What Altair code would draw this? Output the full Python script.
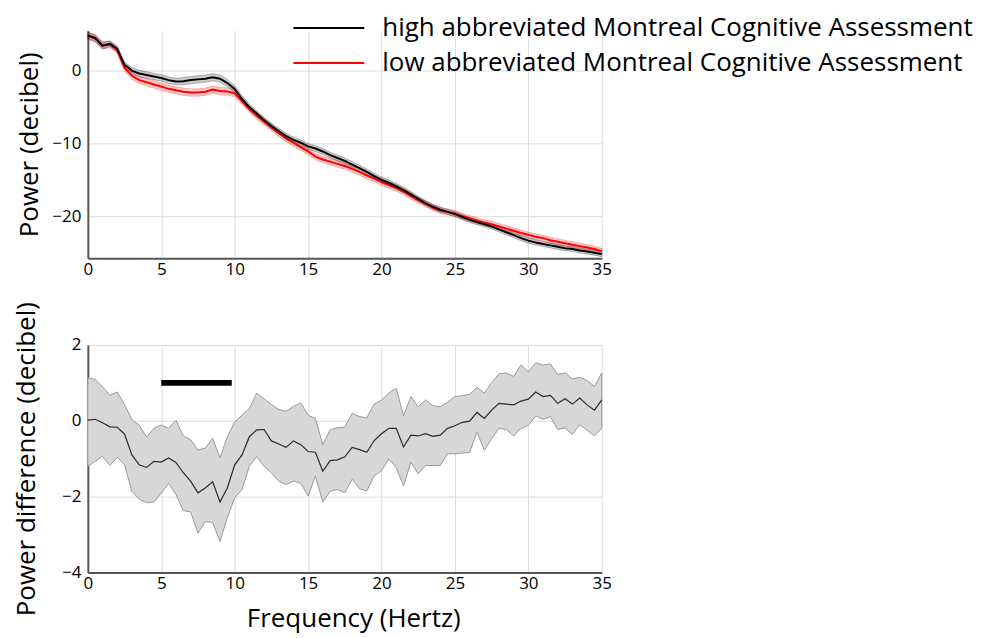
import altair as alt
import pandas as pd

# ---------------- data ----------------
freq = [i * 0.5 for i in range(71)]

group_names = [
    "high abbreviated Montreal Cognitive Assessment",
    "low abbreviated Montreal Cognitive Assessment",
]
group_colors = ["#000000", "#ff0000"]

high_power = [
    4.8, 4.5, 3.4, 3.7, 3.0, 0.8, 0.0, -0.4, -0.6, -0.8,
    -1.0, -1.3, -1.5, -1.45, -1.3, -1.2, -1.1, -0.9, -1.1, -1.7,
    -2.5, -3.9, -5.0, -5.9, -6.8, -7.6, -8.3, -9.0, -9.5, -9.9,
    -10.4, -10.7, -11.1, -11.6, -12.0, -12.4, -12.9, -13.4, -13.9, -14.5,
    -15.0, -15.4, -15.9, -16.4, -17.0, -17.6, -18.2, -18.7, -19.1, -19.4,
    -19.7, -20.1, -20.5, -20.8, -21.1, -21.4, -21.8, -22.2, -22.6, -23.0,
    -23.35, -23.6, -23.8, -24.0, -24.2, -24.4, -24.5, -24.7, -24.85, -25.0,
    -25.2,
]
low_power = [
    4.8, 4.4, 3.5, 3.6, 2.8, 0.4, -0.7, -1.3, -1.6, -1.9,
    -2.2, -2.5, -2.7, -2.9, -3.0, -3.0, -2.9, -2.6, -2.8, -2.85,
    -3.1, -4.2, -5.3, -6.2, -7.0, -7.8, -8.6, -9.3, -9.9, -10.5,
    -11.1, -11.8, -12.2, -12.5, -12.8, -13.1, -13.5, -13.9, -14.4, -14.8,
    -15.3, -15.7, -16.1, -16.6, -17.2, -17.8, -18.3, -18.8, -19.2, -19.4,
    -19.6, -20.0, -20.3, -20.6, -20.9, -21.1, -21.4, -21.7, -22.0, -22.3,
    -22.55, -22.8, -23.0, -23.3, -23.5, -23.7, -23.9, -24.1, -24.3, -24.5,
    -24.8,
]
high_sem = [
    0.45, 0.45, 0.45, 0.4, 0.4, 0.4, 0.45, 0.45, 0.45, 0.45,
    0.45, 0.45, 0.45, 0.5, 0.5, 0.5, 0.5, 0.5, 0.5, 0.5,
    0.45, 0.45, 0.4, 0.4, 0.4, 0.4, 0.4, 0.4, 0.4, 0.4,
    0.4, 0.4, 0.4, 0.4, 0.4, 0.4, 0.4, 0.4, 0.4, 0.4,
    0.4, 0.4, 0.4, 0.4, 0.4, 0.35, 0.35, 0.35, 0.35, 0.35,
    0.35, 0.35, 0.35, 0.35, 0.35, 0.35, 0.35, 0.35, 0.35, 0.35,
    0.35, 0.35, 0.35, 0.35, 0.35, 0.35, 0.35, 0.35, 0.35, 0.35,
    0.35,
]
low_sem = [
    0.5, 0.5, 0.5, 0.45, 0.45, 0.45, 0.5, 0.5, 0.5, 0.5,
    0.5, 0.5, 0.5, 0.5, 0.5, 0.5, 0.5, 0.5, 0.5, 0.5,
    0.5, 0.45, 0.45, 0.45, 0.45, 0.45, 0.45, 0.45, 0.45, 0.45,
    0.45, 0.45, 0.45, 0.45, 0.45, 0.45, 0.45, 0.45, 0.45, 0.45,
    0.45, 0.45, 0.45, 0.45, 0.45, 0.4, 0.4, 0.4, 0.4, 0.4,
    0.4, 0.4, 0.4, 0.4, 0.4, 0.4, 0.4, 0.4, 0.4, 0.4,
    0.4, 0.4, 0.4, 0.4, 0.4, 0.4, 0.4, 0.4, 0.4, 0.4,
    0.4,
]

diff_mean = [
    0.02, 0.04, -0.05, -0.16, -0.17, -0.35, -0.90, -1.16, -1.23, -1.07,
    -1.09, -0.98, -1.10, -1.37, -1.59, -1.90, -1.77, -1.61, -2.14, -1.77,
    -1.16, -0.90, -0.42, -0.24, -0.23, -0.53, -0.61, -0.70, -0.53, -0.63,
    -0.81, -0.83, -1.33, -1.05, -1.03, -0.95, -0.70, -0.76, -0.83, -0.52,
    -0.34, -0.20, -0.20, -0.69, -0.38, -0.40, -0.34, -0.41, -0.38, -0.20,
    -0.13, -0.04, -0.01, 0.22, 0.06, 0.28, 0.46, 0.44, 0.42, 0.52,
    0.57, 0.76, 0.64, 0.67, 0.46, 0.58, 0.44, 0.60, 0.42, 0.28,
    0.55,
]
diff_upper = [
    1.13, 1.09, 0.90, 0.67, 0.76, 0.43, 0.03, -0.11, -0.43, -0.20,
    -0.11, -0.20, 0.02, -0.40, -0.50, -0.77, -0.72, -0.46, -0.98, -0.42,
    -0.03, 0.15, 0.32, 0.73, 0.58, 0.43, 0.30, 0.25, 0.38, 0.47,
    0.15, 0.06, -0.63, -0.24, -0.18, -0.17, 0.20, 0.11, 0.08, 0.44,
    0.55, 0.73, 0.86, 0.13, 0.64, 0.37, 0.55, 0.40, 0.37, 0.49,
    0.64, 0.66, 0.70, 0.88, 0.73, 1.00, 1.24, 1.26, 1.17, 1.48,
    1.29, 1.53, 1.47, 1.50, 1.22, 1.26, 1.10, 1.15, 1.06, 0.91,
    1.26,
]
diff_lower = [
    -1.20, -1.07, -0.94, -1.18, -0.96, -1.16, -1.86, -2.07, -2.16, -2.14,
    -1.90, -1.65, -1.94, -2.37, -2.40, -2.96, -2.66, -2.68, -3.18, -2.55,
    -2.03, -1.81, -1.20, -0.94, -1.20, -1.37, -1.59, -1.68, -1.59, -1.65,
    -1.98, -1.46, -2.14, -1.86, -1.81, -1.90, -1.54, -1.79, -1.85, -1.45,
    -1.32, -1.00, -1.23, -1.72, -1.09, -1.40, -1.18, -1.18, -1.18, -0.87,
    -0.87, -0.85, -0.84, -0.29, -0.78, -0.47, -0.20, -0.23, -0.40, -0.20,
    -0.12, 0.13, 0.04, 0.11, -0.23, -0.19, -0.36, -0.10, -0.25, -0.40,
    -0.19,
]

sig_start = [5.0]
sig_end = [9.8]
sig_level = [1.0]

# ---------------- tables ----------------
rows = []
for name, pw, se in [(group_names[0], high_power, high_sem), (group_names[1], low_power, low_sem)]:
    for f, p, s in zip(freq, pw, se):
        rows.append({"freq": f, "group": name, "power": p, "lo": p - s, "hi": p + s})
df_top = pd.DataFrame(rows)
df_diff = pd.DataFrame({"freq": freq, "mean": diff_mean, "lo": diff_lower, "hi": diff_upper})
df_sig = pd.DataFrame({"start": sig_start, "end": sig_end, "level": sig_level})

FONT = "Open Sans"
W, H = 515, 228
TITLE_SIZE = 26

x_top = alt.X("freq:Q", scale=alt.Scale(domain=[0, 35], nice=False, zero=False),
              axis=alt.Axis(values=[0, 5, 10, 15, 20, 25, 30, 35], title=None, labelPadding=3))
y_top_scale = alt.Scale(domain=[-25.75, 5.5], nice=False, zero=False)

color = alt.Color(
    "group:N",
    scale=alt.Scale(domain=group_names, range=group_colors),
    legend=alt.Legend(
        orient="none", legendX=205, legendY=-20, title=None,
        symbolType="stroke", symbolSize=5041, symbolStrokeWidth=2,
        labelFontSize=TITLE_SIZE, labelFont=FONT, labelLimit=900, labelOffset=17,
        clipHeight=35, rowPadding=0, padding=0,
    ),
)

base_top = alt.Chart(df_top)
band_low = base_top.transform_filter(alt.datum.group == group_names[1]).mark_area(
    color="#ff0000", fillOpacity=0.22, stroke="#ff0000", strokeOpacity=0.25, strokeWidth=1
).encode(x=x_top, y=alt.Y("lo:Q", scale=y_top_scale), y2="hi:Q")
band_high = base_top.transform_filter(alt.datum.group == group_names[0]).mark_area(
    color="#000000", fillOpacity=0.2, stroke="#000000", strokeOpacity=0.25, strokeWidth=1
).encode(x=x_top, y=alt.Y("lo:Q", scale=y_top_scale), y2="hi:Q")

y_top = alt.Y("power:Q", scale=y_top_scale,
              axis=alt.Axis(values=[0, -10, -20], title="Power (decibel)", titlePadding=9))
line_low = base_top.transform_filter(alt.datum.group == group_names[1]).mark_line(
    strokeWidth=2).encode(x=x_top, y=y_top, color=color)
line_high = base_top.transform_filter(alt.datum.group == group_names[0]).mark_line(
    strokeWidth=2).encode(x=x_top, y=y_top, color=color)

top = alt.layer(band_low, band_high, line_low, line_high).properties(width=W, height=H)

# bottom panel
x_bot = alt.X("freq:Q", scale=alt.Scale(domain=[0, 35], nice=False, zero=False),
              axis=alt.Axis(values=[0, 5, 10, 15, 20, 25, 30, 35], title="Frequency (Hertz)",
                            labelPadding=3, titlePadding=14, titleX=266))
y_bot_scale = alt.Scale(domain=[-4, 2], nice=False, zero=False)
band_diff = alt.Chart(df_diff).mark_area(
    color="#d7d7d7", opacity=1, stroke="#9a9a9a", strokeWidth=1
).encode(x=x_bot, y=alt.Y("lo:Q", scale=y_bot_scale,
                            axis=alt.Axis(values=[2, 0, -2, -4], title="Power difference (decibel)",
                                          titlePadding=22)), y2="hi:Q")
line_diff = alt.Chart(df_diff).mark_line(color="#2a2a2a", strokeWidth=1.2).encode(
    x=x_bot, y=alt.Y("mean:Q", scale=y_bot_scale))
sig_bar = alt.Chart(df_sig).mark_rule(color="black", strokeWidth=6).encode(
    x=alt.X("start:Q", scale=alt.Scale(domain=[0, 35], nice=False, zero=False)),
    x2="end:Q",
    y=alt.Y("level:Q", scale=y_bot_scale),
)
bottom = alt.layer(band_diff, line_diff, sig_bar).properties(width=W, height=H)

chart = (
    alt.vconcat(top, bottom, spacing=24)
    .properties(padding={"left": 5, "top": 2, "right": 6, "bottom": 3})
    .configure_view(stroke=None)
    .configure_axis(
        domainColor="#555555", domainWidth=2, gridColor="#dcdcdc", gridWidth=1,
        tickSize=0, labelFontSize=17, labelFont=FONT, labelColor="black",
        titleFont=FONT, titleFontSize=TITLE_SIZE, titleFontWeight="normal", titleColor="black",
        labelPadding=7, labelFlush=False,
    )
)

chart.save("out.html", embed_options={"renderer": "svg", "actions": False})
